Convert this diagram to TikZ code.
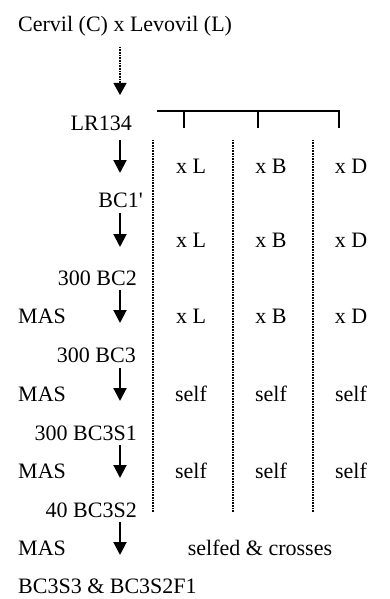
\documentclass[tikz,border=0pt]{standalone}
\usepackage{fontspec}
\setmainfont{Liberation Serif}
\usetikzlibrary{arrows.meta}

\begin{document}
\begin{tikzpicture}[
        x=1pt,y=-1pt,
        font=\fontsize{22}{26}\selectfont,
        every node/.style={inner sep=0pt},
        gen/.style={anchor=base east},
        side/.style={anchor=base west},
        cell/.style={anchor=base},
        arrow/.style={-{Triangle[width=13pt,length=13pt]},line width=2pt},
        dotarrow/.style={-{Triangle[width=13pt,length=12pt]},line width=1.5pt,dash pattern=on 0.8pt off 0.8pt},
        divider/.style={line width=1.4pt,dash pattern=on 0.8pt off 0.8pt},
        bracket/.style={line width=2pt}
    ]
        \useasboundingbox (0,0) rectangle (389,599);

        % generations
        \node[side] (title) at (18,32) {Cervil (C) x Levovil (L)};
        \node[gen] (lr134) at (132,130) {LR134};
        \node[gen] (bc1) at (143,207) {BC1\textquotesingle};
        \node[gen] (bc2) at (137,285) {300 BC2};
        \node[gen] (bc3) at (136,362) {300 BC3};
        \node[gen] (bc3s1) at (137,440) {300 BC3S1};
        \node[gen] (bc3s2) at (137,517) {40 BC3S2};
        \node[side] (final) at (18,593) {BC3S3 \& BC3S2F1};

        \node[side] (mas2) at (18,323) {MAS};
        \node[side] (mas3) at (18,401) {MAS};
        \node[side] (mas4) at (18,478) {MAS};
        \node[side] (mas5) at (18,555) {MAS};

        % crossing columns
        \node[cell] (r1l) at (191,173) {x L};
        \node[cell] (r1b) at (271,173) {x B};
        \node[cell] (r1d) at (351,173) {x D};
        \node[cell] (r2l) at (191,247) {x L};
        \node[cell] (r2b) at (271,247) {x B};
        \node[cell] (r2d) at (351,247) {x D};
        \node[cell] (r3l) at (191,323) {x L};
        \node[cell] (r3b) at (271,323) {x B};
        \node[cell] (r3d) at (351,323) {x D};
        \node[cell] (r4l) at (191,401) {self};
        \node[cell] (r4b) at (271,401) {self};
        \node[cell] (r4d) at (351,401) {self};
        \node[cell] (r5l) at (191,478) {self};
        \node[cell] (r5b) at (271,478) {self};
        \node[cell] (r5d) at (351,478) {self};
        \node[cell] (r6) at (260,555) {selfed \& crosses};

        % arrow ends
        \coordinate (a0s) at (120,47);  \coordinate (a0e) at (120,95);
        \coordinate (a1s) at (120,140); \coordinate (a1e) at (120,173);
        \coordinate (a2s) at (120,213); \coordinate (a2e) at (120,247);
        \coordinate (a3s) at (120,290); \coordinate (a3e) at (120,323);
        \coordinate (a4s) at (120,368); \coordinate (a4e) at (120,401);
        \coordinate (a5s) at (120,445); \coordinate (a5e) at (120,478);
        \coordinate (a6s) at (120,522); \coordinate (a6e) at (120,555);

        \draw[dotarrow] (a0s) -- (a0e);
        \draw[arrow] (a1s) -- (a1e);
        \draw[arrow] (a2s) -- (a2e);
        \draw[arrow] (a3s) -- (a3e);
        \draw[arrow] (a4s) -- (a4e);
        \draw[arrow] (a5s) -- (a5e);
        \draw[arrow] (a6s) -- (a6e);

        % bracket over the columns
        \coordinate (bl) at (157,111);
        \coordinate (br) at (339,111);
        \coordinate (t1) at (184,128);
        \coordinate (t2) at (258,128);
        \draw[bracket] (bl) -- (br) -- (br |- t1);
        \draw[bracket] (t1 |- bl) -- (t1);
        \draw[bracket] (t2 |- bl) -- (t2);

        % column dividers
        \coordinate (d1s) at (153,140); \coordinate (d1e) at (153,512);
        \coordinate (d2s) at (233,140); \coordinate (d2e) at (233,512);
        \coordinate (d3s) at (313,140); \coordinate (d3e) at (313,512);
        \draw[divider] (d1s) -- (d1e);
        \draw[divider] (d2s) -- (d2e);
        \draw[divider] (d3s) -- (d3e);
    \end{tikzpicture}
\end{document}
